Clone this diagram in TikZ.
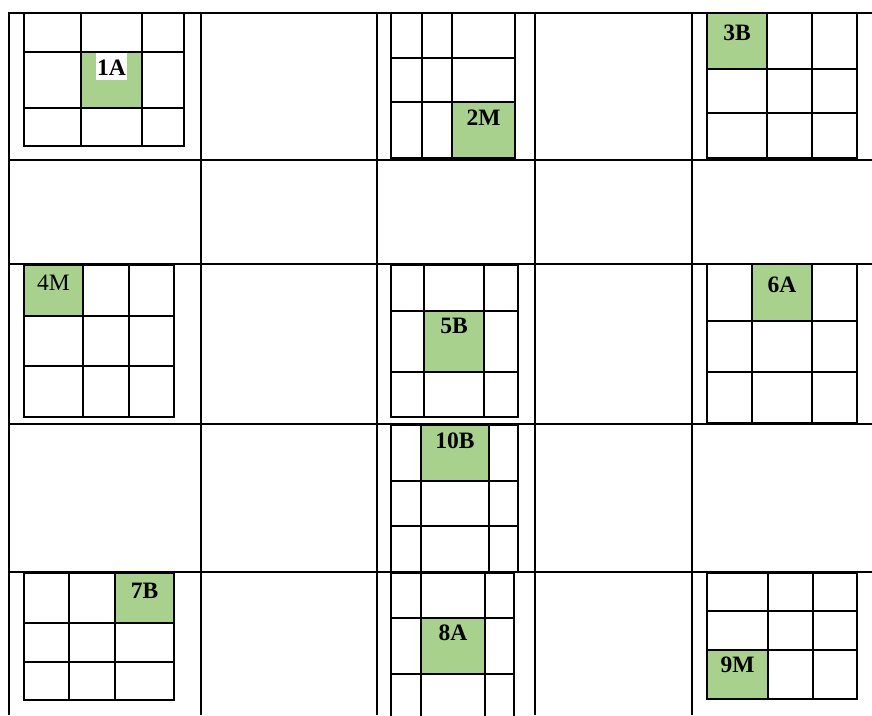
\documentclass[tikz,border=0pt]{standalone}
\usepackage{fontspec}
\setmainfont{Liberation Serif}
\usepackage{tikz}
\definecolor{mygreen}{RGB}{169,209,142}
\tikzset{
  tabline/.style={line width=2.2pt, color=black},
  gridline/.style={line width=2.2pt, color=black},
  hit/.style={fill=mygreen, draw=none},
  tag/.style={anchor=base, inner sep=0pt, font=\fontsize{23.5}{26}\selectfont\bfseries},
  plaintag/.style={anchor=base, inner sep=0pt, font=\fontsize{23.5}{26}\selectfont}
}
% 3x3 grid: x positions #1-#4, y positions #5-#8
\newcommand{\boxgrid}[8]{%
  \draw[gridline] (#1,#5) rectangle (#4,#8);
  \draw[gridline] (#2,#5) -- (#2,#8) (#3,#5) -- (#3,#8);
  \draw[gridline] (#1,#6) -- (#4,#6) (#1,#7) -- (#4,#7);
}

\begin{document}
\begin{tikzpicture}[x=1pt, y=-1pt]
  \useasboundingbox (0,0) rectangle (872,715);

  % Table
  \foreach \y in {13,160,264,424,572} \draw[tabline] (8,\y) -- (872,\y);
  \foreach \x in {9,201,377,535,692} \draw[tabline] (\x,12) -- (\x,715);

  % Marked cells
  \fill[hit] (81,52) rectangle (142,108);
  \fill[hit] (452,102) rectangle (515,158);
  \fill[hit] (707,13) rectangle (767,69);
  \fill[hit] (24,265) rectangle (83,316);
  \fill[hit] (424,311) rectangle (484,372);
  \fill[hit] (752,264) rectangle (812,321);
  \fill[hit] (421,425) rectangle (489,481);
  \fill[hit] (115,573) rectangle (174,623);
  \fill[hit] (421,618) rectangle (485,674);
  \fill[hit] (707,650) rectangle (768,699);

  % Grids
  \boxgrid{24}{81}{142}{184}{13}{52}{108}{146}
  \boxgrid{391}{422}{452}{515}{13}{58}{102}{158}
  \boxgrid{707}{767}{812}{857}{13}{69}{113}{158}
  \boxgrid{24}{83}{129}{174}{265}{316}{366}{417}
  \boxgrid{391}{424}{484}{518}{265}{311}{372}{417}
  \boxgrid{707}{752}{812}{857}{264}{321}{372}{423}
  \boxgrid{391}{421}{489}{518}{425}{481}{526}{572}
  \boxgrid{24}{69}{115}{174}{573}{623}{662}{700}
  \boxgrid{391}{421}{485}{514}{573}{618}{674}{730}
  \boxgrid{707}{768}{813}{857}{573}{611}{650}{699}

  % Labels
  \node[tag, fill=white, inner xsep=1.5pt, text height=22pt, text depth=5pt] (l1a) at (111.5,75) {1A};
  \node[tag] (l2m) at (483.5,125) {2M};
  \node[tag] (l3b) at (737,40) {3B};
  \node[plaintag] (l4m) at (53.5,290) {4M};
  \node[tag] (l5b) at (454,333) {5B};
  \node[tag] (l6a) at (782,292) {6A};
  \node[tag] (l10b) at (455,448) {10B};
  \node[tag] (l7b) at (144.5,598) {7B};
  \node[tag] (l8a) at (453,640) {8A};
  \node[tag] (l9m) at (737.5,672) {9M};
\end{tikzpicture}
\end{document}
